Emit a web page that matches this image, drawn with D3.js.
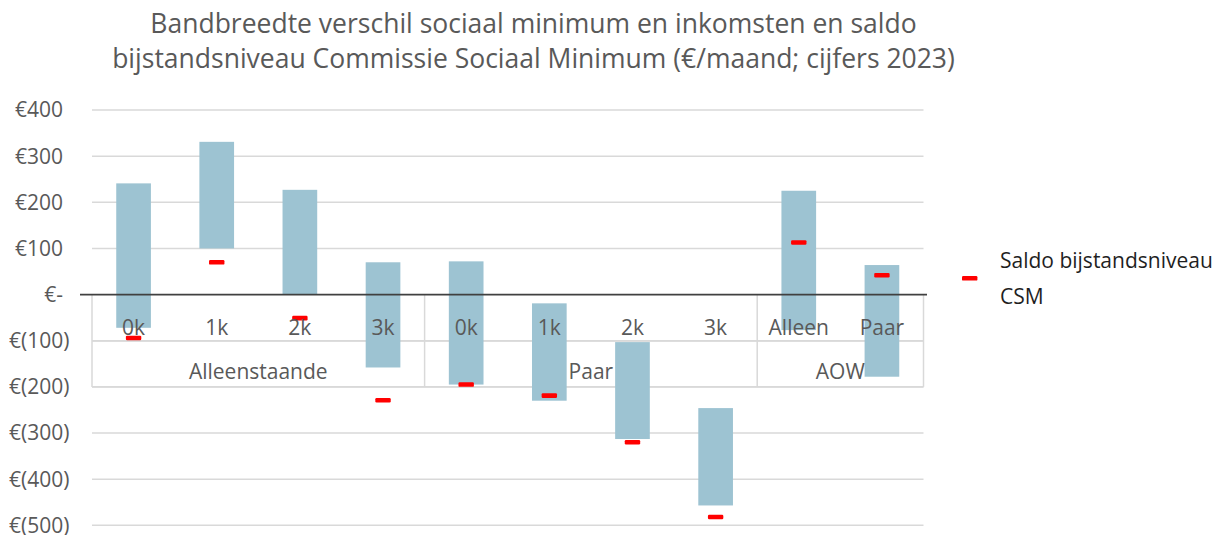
<!DOCTYPE html>
<html>
<head>
<meta charset="utf-8">
<script src="https://cdn.jsdelivr.net/npm/d3@7"></script>
<style>
  html, body { margin: 0; padding: 0; background: #ffffff; }
  svg { display: block; font-family: "Open Sans", sans-serif; }
</style>
</head>
<body>
<svg id="chart" width="1232" height="535"></svg>
<script>
// ---- Data ----
const titleLines = [
  "Bandbreedte verschil sociaal minimum en inkomsten en saldo",
  "bijstandsniveau Commissie Sociaal Minimum (€/maand; cijfers 2023)"
];
const categories = ["0k", "1k", "2k", "3k", "0k", "1k", "2k", "3k", "Alleen", "Paar"];
const groups = ["Alleenstaande", "Paar", "AOW"];
const groupSizes = [4, 4, 2];
const bandLow  = [-72, 100, 0, -158, -195, -230, -313, -457, -77, -178];
const bandHigh = [241, 331, 227, 70, 72, -19, -103, -246, 225, 64];
const saldo    = [-94, 70, -51, -229, -195, -219, -320, -482, 113, 42];
const yTicks = [400, 300, 200, 100, 0, -100, -200, -300, -400, -500];
const legendLines = ["Saldo bijstandsniveau", "CSM"];

// ---- Layout ----
const svg = d3.select("#chart");
const plotLeft = 92, plotRight = 923.5;
const x = d3.scaleBand().domain(d3.range(categories.length)).range([plotLeft, plotRight]).padding(0);
const y = d3.scaleLinear().domain([-500, 400]).range([525.3, 110]);
const barW = x.bandwidth() * 0.417;
const gridColor = "#d9d9d9";
const textColor = "#595959";
const y0 = y(0);

// Title
svg.append("g").selectAll("text").data(titleLines).join("text")
  .attr("x", 533.5).attr("y", (d, i) => 33.3 + i * 35)
  .attr("text-anchor", "middle")
  .attr("font-size", 26.5).attr("fill", textColor)
  .text(d => d);

// Gridlines
svg.append("g").selectAll("line").data(yTicks.filter(t => t !== 0)).join("line")
  .attr("x1", plotLeft).attr("x2", plotRight)
  .attr("y1", d => y(d)).attr("y2", d => y(d))
  .attr("stroke", gridColor).attr("stroke-width", 1.5);

// Category axis structure (multi-level)
const row1 = y0 + 46.3, row2 = y0 + 92.3;
const cat = svg.append("g");
[row1, row2].forEach(ry => {
  cat.append("line").attr("x1", plotLeft).attr("x2", plotRight)
    .attr("y1", ry).attr("y2", ry).attr("stroke", gridColor).attr("stroke-width", 1.5);
});
let cum = [0];
groupSizes.forEach(s => cum.push(cum[cum.length - 1] + s));
cum.forEach(c => {
  const gx = c < categories.length ? x(c) : plotRight;
  cat.append("line").attr("x1", gx).attr("x2", gx)
    .attr("y1", y0).attr("y2", row2).attr("stroke", gridColor).attr("stroke-width", 1.5);
});

// Bars
svg.append("g").selectAll("rect").data(categories).join("rect")
  .attr("x", (d, i) => x(i) + (x.bandwidth() - barW) / 2)
  .attr("width", barW)
  .attr("y", (d, i) => y(bandHigh[i]))
  .attr("height", (d, i) => y(bandLow[i]) - y(bandHigh[i]))
  .attr("fill", "#9dc3d2");

// Saldo markers
svg.append("g").selectAll("rect").data(saldo).join("rect")
  .attr("x", (d, i) => x(i) + x.bandwidth() / 2 - 7.7)
  .attr("width", 15.4)
  .attr("y", d => y(d) - 2.3)
  .attr("height", 4.6)
  .attr("rx", 1.2)
  .attr("fill", "#ff0000");

// Zero axis line
svg.append("line").attr("x1", 80).attr("x2", 927)
  .attr("y1", y0).attr("y2", y0)
  .attr("stroke", "#404040").attr("stroke-width", 1.6);

// Y tick labels
const fmt = v => v === 0 ? "€-" : (v < 0 ? "€(" + Math.abs(v) + ")" : "€" + v);
svg.append("g").selectAll("text").data(yTicks).join("text")
  .attr("x", d => d < 0 ? 69.5 : 63)
  .attr("y", d => y(d) + 7.4)
  .attr("text-anchor", "end")
  .attr("font-size", 21).attr("fill", textColor)
  .text(fmt);

// Category labels
svg.append("g").selectAll("text").data(categories).join("text")
  .attr("x", (d, i) => x(i) + x.bandwidth() / 2)
  .attr("y", y0 + 40.5)
  .attr("text-anchor", "middle")
  .attr("font-size", 21).attr("fill", textColor)
  .text(d => d);

// Group labels
svg.append("g").selectAll("text").data(groups).join("text")
  .attr("x", (d, i) => {
    const a = x(cum[i]);
    const b = cum[i + 1] < categories.length ? x(cum[i + 1]) : plotRight;
    return (a + b) / 2;
  })
  .attr("y", y0 + 84.6)
  .attr("text-anchor", "middle")
  .attr("font-size", 21).attr("fill", textColor)
  .text(d => d);

// Legend
const lg = svg.append("g");
lg.append("rect").attr("x", 962).attr("y", 276).attr("width", 15.4).attr("height", 4.6)
  .attr("rx", 1.2).attr("fill", "#ff0000");
lg.selectAll("text").data(legendLines).join("text")
  .attr("x", 1000).attr("y", (d, i) => 268.3 + i * 36)
  .attr("font-size", 21).attr("fill", "#1f1f1f")
  .text(d => d);
</script>
</body>
</html>
